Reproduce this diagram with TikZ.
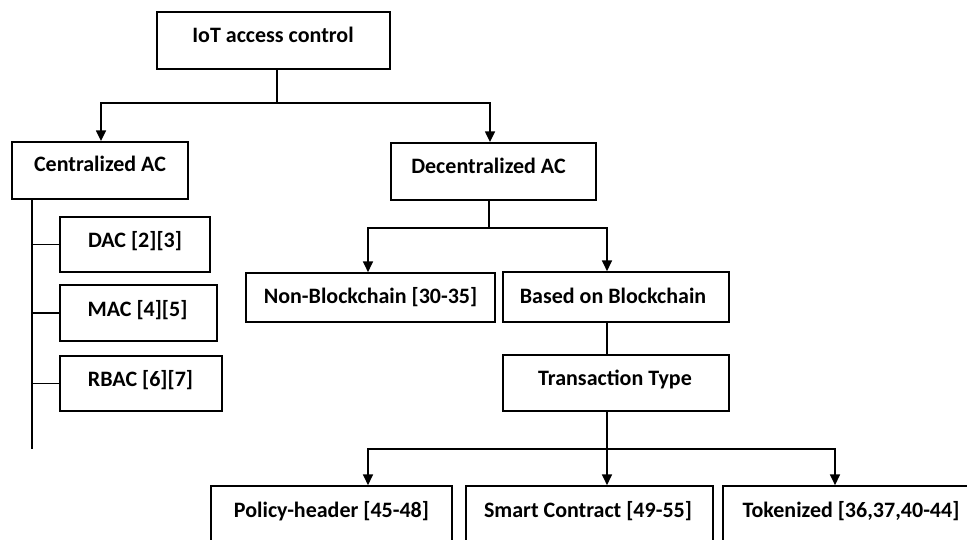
\documentclass[tikz,border=0pt]{standalone}
\usepackage{fontspec}
\setmainfont{Carlito}
\usetikzlibrary{arrows.meta,calc}
\newdimen\pxu \pxu=0.75pt
\begin{document}
\begin{tikzpicture}[x=0.75pt,y=-0.75pt,
  box/.style={draw,line width=1.3pt,inner sep=0pt},
  txt/.style={font=\fontsize{16.5}{18}\selectfont\bfseries,inner sep=0pt,anchor=base},
  ln/.style={line width=1.1pt},
  arr/.style={line width=1.1pt,-{Triangle[width=7.5pt,length=8pt]}}]
\useasboundingbox (0,0) rectangle (967,539);
\clip (0,0) rectangle (967,539);
% boxes
\node[box,minimum width=233\pxu,minimum height=57\pxu] (iot) at (273.5,40.5) {};
\node[box,minimum width=176\pxu,minimum height=57\pxu] (cen) at (100,170.5) {};
\node[box,minimum width=205\pxu,minimum height=57\pxu] (dec) at (493.5,171.5) {};
\node[box,minimum width=150\pxu,minimum height=55\pxu] (dac) at (135,244.5) {};
\node[box,minimum width=157\pxu,minimum height=56\pxu] (mac) at (138.5,313) {};
\node[box,minimum width=162\pxu,minimum height=55\pxu] (rbac) at (141,383.5) {};
\node[box,minimum width=249\pxu,minimum height=49\pxu] (nonb) at (370.5,297.5) {};
\node[box,minimum width=226\pxu,minimum height=50\pxu] (based) at (616,297) {};
\node[box,minimum width=226\pxu,minimum height=56\pxu] (trans) at (616,383) {};
\node[box,minimum width=241\pxu,minimum height=60\pxu] (policy) at (331.5,516) {};
\node[box,minimum width=247\pxu,minimum height=60\pxu] (smart) at (589.5,516) {};
\node[box,minimum width=257\pxu,minimum height=60\pxu] (token) at (851.5,516) {};
% texts
\node[txt] (tiot) at (273,42) {IoT access control};
\node[txt] (tcen) at (100,171) {Centralized AC};
\node[txt] (tdec) at (488.5,173) {Decentralized AC};
\node[txt] (tdac) at (135,247) {DAC [2][3]};
\node[txt] (tmac) at (137.5,316) {MAC [4][5]};
\node[txt] (trbac) at (140.5,386) {RBAC [6][7]};
\node[txt] (tnonb) at (370.5,303) {Non-Blockchain [30-35]};
\node[txt] (tbased) at (613,303) {Based on Blockchain};
\node[txt] (ttrans) at (615,385) {Transaction Type};
\node[txt] (tpolicy) at (331.5,517) {Policy-header [45-48]};
\node[txt] (tsmart) at (588,517) {Smart Contract [49-55]};
\node[txt] (ttoken) at (851,517) {Tokenized [36,37,40-44]};
% connectors
\coordinate (j1) at (277,103);
\draw[ln] (iot.south -| j1) -- (j1);
\draw[arr] (j1) -| (101,141);
\draw[arr] (j1) -| (490,142);
\coordinate (j2) at (489,228);
\draw[ln] (dec.south -| j2) -- (j2);
\draw[arr] (j2) -| (nonb.north -| 368,0);
\draw[arr] (j2) -| (based.north -| 607,0);
\draw[ln] (based.south -| 607,0) -- (trans.north -| 607,0);
\coordinate (j3) at (607,449);
\draw[ln] (trans.south -| j3) -- (j3);
\draw[arr] (j3) -| (policy.north -| 368,0);
\draw[arr] (j3) -- (smart.north -| j3);
\draw[arr] (j3) -| (token.north -| 835,0);
\coordinate (lend) at (32,449);
\draw[ln] (cen.south -| lend) -- (lend);
\draw[ln] (dac.west -| lend) -- (dac.west);
\draw[ln] (mac.west -| lend) -- (mac.west);
\draw[ln] (rbac.west -| lend) -- (rbac.west);
\end{tikzpicture}
\end{document}
